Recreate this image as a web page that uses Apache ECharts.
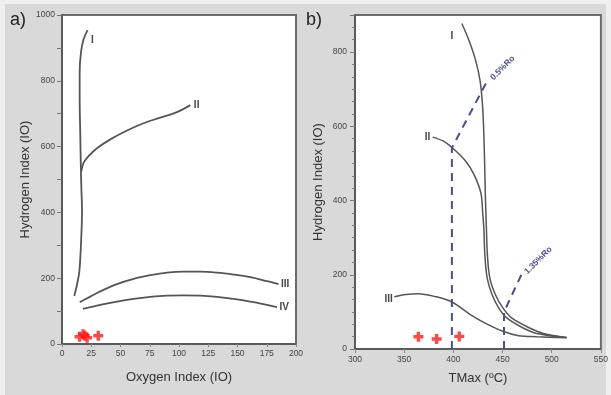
<!DOCTYPE html>
<html><head><meta charset="utf-8">
<script src="https://cdn.jsdelivr.net/npm/echarts@6/dist/echarts.min.js"></script>
<style>html,body{margin:0;padding:0;background:#efefef;}#c{width:611px;height:395px;}</style>
</head><body><div id="c"></div>
<script>
// ---- text ----
const panelTitles = ['a)', 'b)'];
const leftXName = 'Oxygen Index (IO)';
const rightXName = 'TMax (ºC)';
const yName = 'Hydrogen Index (IO)';
const typeLabels = ['I', 'II', 'III', 'IV'];
const roLabels = ['0.5%Ro', '1.35%Ro'];

// ---- tick labels ----
const leftXTicks = [0, 25, 50, 75, 100, 125, 150, 175, 200];
const leftYTicks = [0, 200, 400, 600, 800, 1000];
const rightXTicks = [300, 350, 400, 450, 500, 550];
const rightYTicks = [0, 200, 400, 600, 800];

// ---- panel a: HI vs OI ----
const aTypeI = [[10.5,146],[12.8,180],[14.8,220],[16.2,302],[17.1,403],[16.5,480],[16.2,520],[15.6,642],[15.1,744],[15.1,825],[16.2,886],[18.5,927],[21.9,954]];
const aTypeII = [[16.5,525],[18.5,551],[22.7,571],[29.9,595],[41.3,622],[55.6,649],[69.7,671],[84,688],[98.3,705],[109.7,726]];
const aTypeIII = [[15.1,127],[24.2,144],[32.7,160],[47,182],[61.2,198],[75.5,209],[89.7,217],[104,220],[118.2,220],[132.5,217],[146.7,211],[161,203],[175.2,191],[185.1,182]];
const aTypeIV = [[17.9,107],[32.7,119],[47,129],[61.2,137],[75.5,143],[89.7,147],[104,148],[118.2,147],[132.5,143],[146.7,137],[161,129],[175.2,119],[183.8,112]];
const aSamples = [[15,22],[18,30],[19.5,25],[21.5,19],[31,25]];

// ---- panel b: HI vs Tmax ----
const bTypeI = [[408.6,877],[415.9,831],[422.7,777],[427.2,722],[429.8,650],[431.4,542],[432.5,416],[433.6,326],[434.6,254],[437.1,191],[442.8,146],[450.5,110],[459.6,83],[478.1,56],[491.5,42],[515,31]];
const bTypeII = [[379,571],[390,560],[399,542],[412.6,506],[421,470],[428,420],[430,360],[431,326],[432,254],[434.4,191],[439.4,146],[446.2,110],[454.6,83],[471.4,56],[484.8,42],[515,31]];
const bTypeIII = [[340,141],[352,147],[364,149],[382,141],[399,126],[417.6,92],[432.8,69],[451,47],[466.3,36],[484.8,33],[515,30]];
const bRo05 = [[398.5,0],[398.5,542],[435.5,728]];
const bRo135 = [[451.5,0],[451.5,100],[470,205]];
const bSamples = [[364.5,33],[383,27],[406,34]];

// ---- styling ----
const curveColor = '#555';
const roColor = '#4b4e8e';
const crossPath = 'path://M3,0H6V3H9V6H6V9H3V6H0V3H3Z';
const FONT = 'Liberation Sans, Arial, sans-serif';

function labelled(data, idx, label) {
  return data.map((p, i) => i === idx ? { value: p, label: Object.assign({ show: true }, label) } : p);
}
function curve(data, gi, width, labelIdx, text, lab) {
  return {
    type: 'line', xAxisIndex: gi, yAxisIndex: gi, smooth: 0.35,
    symbol: 'circle', symbolSize: 1, showSymbol: true, itemStyle: { color: 'rgba(0,0,0,0)' },
    lineStyle: { color: curveColor, width: width }, silent: true, z: 3,
    label: { show: false },
    data: labelled(data, labelIdx, Object.assign({ formatter: text, color: '#444', fontSize: 10, fontWeight: 'bold', fontFamily: FONT }, lab))
  };
}
function roLine(data, text) {
  return {
    type: 'line', xAxisIndex: 1, yAxisIndex: 1, silent: true, z: 4,
    symbol: 'circle', symbolSize: 1, showSymbol: true, itemStyle: { color: 'rgba(0,0,0,0)' },
    lineStyle: { color: roColor, width: 2, type: [8, 6] },
    label: { show: false },
    data: labelled(data, data.length - 1, { formatter: text, position: 'right', distance: 3, rotate: 45, color: roColor, fontSize: 8.5, fontWeight: 'bold', fontFamily: FONT })
  };
}
function crosses(data, gi) {
  return { type: 'scatter', xAxisIndex: gi, yAxisIndex: gi, symbol: crossPath, symbolSize: 10, silent: true, z: 5,
    itemStyle: { color: '#ff1a1a' }, data: data };
}
function tickFmt(list) { return v => list.includes(v) ? String(v) : ''; }

const axisLine = { show: true, lineStyle: { color: '#555', width: 1.5 } };
const tickLab = { fontSize: 8.5, color: '#444', fontFamily: FONT };
const nameStyle = { fontSize: 13, color: '#333', fontFamily: FONT };

const chart = echarts.init(document.getElementById('c'), null, { renderer: 'canvas' });
chart.setOption({
  animation: false,
  backgroundColor: '#efefef',
  graphic: [
    { type: 'rect', shape: { x: 5, y: 4, width: 601, height: 391 }, style: { fill: '#d9d9d9' }, z: -10 },
    { type: 'text', left: 10, top: 11, style: { text: panelTitles[0], fontSize: 18, fill: '#222', fontFamily: FONT } },
    { type: 'text', left: 306, top: 11, style: { text: panelTitles[1], fontSize: 18, fill: '#222', fontFamily: FONT } }
  ],
  grid: [
    { left: 62, right: 315, top: 15, bottom: 51, show: true, backgroundColor: '#fff', borderColor: '#6b6b6b', borderWidth: 2 },
    { left: 355, right: 8, top: 15, bottom: 46, show: true, backgroundColor: '#fff', borderColor: '#6b6b6b', borderWidth: 2 }
  ],
  xAxis: [
    { gridIndex: 0, type: 'value', min: leftXTicks[0], max: leftXTicks[leftXTicks.length - 1], interval: 25,
      axisLine, axisTick: { show: true, length: 3, lineStyle: { color: '#888' } },
      axisLabel: Object.assign({ margin: 5, formatter: tickFmt(leftXTicks) }, tickLab), splitLine: { show: false },
      name: leftXName, nameLocation: 'middle', nameGap: 27, nameTextStyle: nameStyle },
    { gridIndex: 1, type: 'value', min: rightXTicks[0], max: rightXTicks[rightXTicks.length - 1], interval: 50,
      axisLine, axisTick: { show: true, length: 4, lineStyle: { color: '#888' } },
      axisLabel: Object.assign({ margin: 6, formatter: tickFmt(rightXTicks) }, tickLab), splitLine: { show: false },
      name: rightXName, nameLocation: 'middle', nameGap: 23, nameTextStyle: nameStyle }
  ],
  yAxis: [
    { gridIndex: 0, type: 'value', min: 0, max: 1000, interval: 200,
      axisLine, axisTick: { show: true, length: 5, lineStyle: { color: '#777' } },
      minorTick: { show: true, splitNumber: 2, length: 5, lineStyle: { color: '#777' } },
      axisLabel: Object.assign({ margin: 7, formatter: tickFmt(leftYTicks) }, tickLab), splitLine: { show: false },
      name: yName, nameLocation: 'middle', nameGap: 30, nameTextStyle: nameStyle },
    { gridIndex: 1, type: 'value', min: 0, max: 900, interval: 200,
      axisLine, axisTick: { show: true, length: 5, lineStyle: { color: '#777' } },
      minorTick: { show: true, splitNumber: 6, length: 3, lineStyle: { color: '#777' } },
      axisLabel: Object.assign({ margin: 8, showMaxLabel: false, formatter: tickFmt(rightYTicks) }, tickLab), splitLine: { show: false },
      name: yName, nameLocation: 'middle', nameGap: 30, nameTextStyle: nameStyle }
  ],
  series: [
    curve(aTypeI, 0, 1.8, aTypeI.length - 1, typeLabels[0], { position: 'right', distance: 3, offset: [0, 10] }),
    curve(aTypeII, 0, 1.8, aTypeII.length - 1, typeLabels[1], { position: 'right', distance: 3 }),
    curve(aTypeIII, 0, 1.8, aTypeIII.length - 1, typeLabels[2], { position: 'right', distance: 2 }),
    curve(aTypeIV, 0, 1.8, aTypeIV.length - 1, typeLabels[3], { position: 'right', distance: 2 }),
    crosses(aSamples, 0),
    curve(bTypeI, 1, 1.5, 0, typeLabels[0], { position: 'left', distance: 8, offset: [0, 13] }),
    curve(bTypeII, 1, 1.5, 0, typeLabels[1], { position: 'left', distance: 2 }),
    curve(bTypeIII, 1, 1.5, 0, typeLabels[2], { position: 'left', distance: 1, offset: [0, 3] }),
    roLine(bRo05, roLabels[0]),
    roLine(bRo135, roLabels[1]),
    crosses(bSamples, 1)
  ]
});
</script></body></html>
